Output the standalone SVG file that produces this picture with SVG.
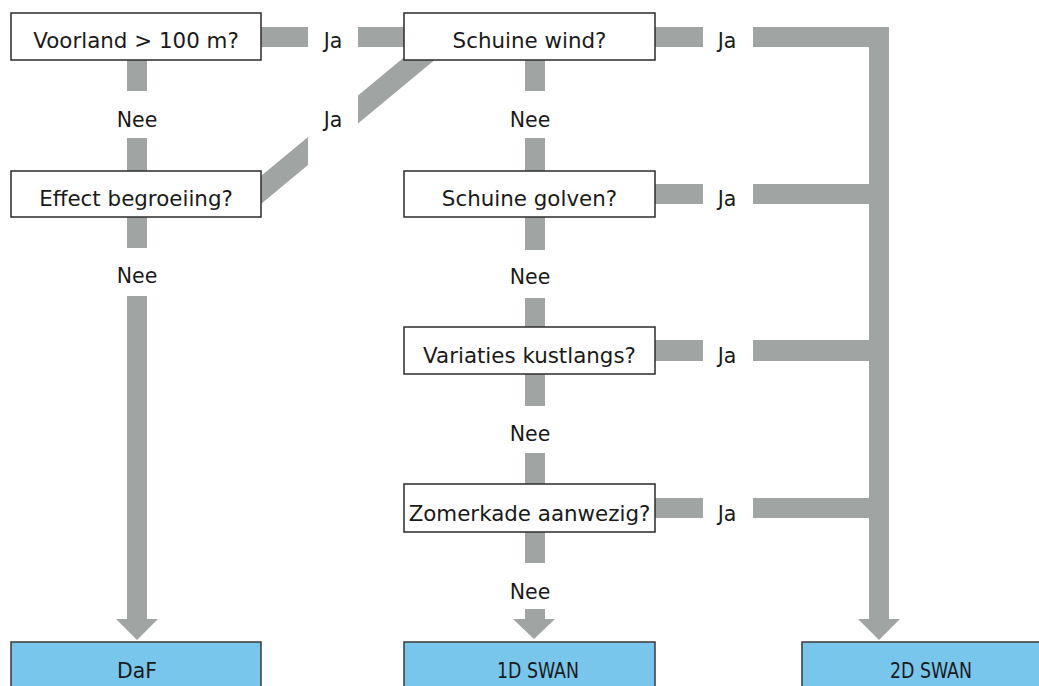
<svg xmlns="http://www.w3.org/2000/svg" width="1039" height="686" viewBox="0 0 1039 686">
<style>
.bar{fill:#a0a4a3}
.q rect{fill:#ffffff;stroke:#2b2b2b;stroke-width:1.5}
.r rect{fill:#78c6ec;stroke:#3a3a3a;stroke-width:1.5}
.t{font-family:"DejaVu Sans",Verdana,sans-serif;font-size:21.4px;fill:#1a1a1a;text-anchor:middle}
.lb{font-family:"DejaVu Sans",Verdana,sans-serif;font-size:20.5px;fill:#1a1a1a;text-anchor:middle}
.rt{font-family:"DejaVu Sans Condensed","DejaVu Sans",sans-serif;font-size:21px;fill:#1a1a1a;text-anchor:middle}
</style>
<rect width="1039" height="686" fill="#ffffff"/>
<g id="connectors">
  <rect class="bar" x="261" y="27" width="47" height="20"/>
  <rect class="bar" x="358" y="27" width="46" height="20"/>
  <polygon class="bar" points="308,137 308,165 245,217.3 245,189.3"/>
  <polygon class="bar" points="358,95.5 358,123.5 440,55.4 440,27.4"/>
  <rect class="bar" x="127" y="60" width="20" height="31"/>
  <rect class="bar" x="127" y="138" width="20" height="33"/>
  <rect class="bar" x="127" y="217" width="20" height="31"/>
  <rect class="bar" x="127" y="296" width="20" height="324"/>
  <polygon class="bar" points="116,619 158,619 137,640"/>
  <rect class="bar" x="525" y="60" width="20" height="31"/>
  <rect class="bar" x="525" y="138" width="20" height="33"/>
  <rect class="bar" x="525" y="217" width="20" height="33"/>
  <rect class="bar" x="525" y="298" width="20" height="29"/>
  <rect class="bar" x="525" y="374" width="20" height="32"/>
  <rect class="bar" x="525" y="453" width="20" height="31"/>
  <rect class="bar" x="525" y="532" width="20" height="31"/>
  <rect class="bar" x="525" y="609" width="20" height="11"/>
  <polygon class="bar" points="513,619 555,619 534,639"/>
  <rect class="bar" x="655" y="27" width="48" height="20"/>
  <rect class="bar" x="753" y="27" width="136" height="20"/>
  <rect class="bar" x="655" y="184" width="48" height="20"/>
  <rect class="bar" x="753" y="184" width="116" height="20"/>
  <rect class="bar" x="655" y="340" width="48" height="21"/>
  <rect class="bar" x="753" y="340" width="116" height="21"/>
  <rect class="bar" x="655" y="498" width="48" height="20"/>
  <rect class="bar" x="753" y="498" width="116" height="20"/>
  <rect class="bar" x="869" y="27" width="20" height="593"/>
  <polygon class="bar" points="858,619 900,619 879,640"/>
  <text class="lb" x="333" y="48">Ja</text>
  <text class="lb" x="333" y="127">Ja</text>
  <text class="lb" x="137" y="127">Nee</text>
  <text class="lb" x="137" y="283">Nee</text>
  <text class="lb" x="530" y="127">Nee</text>
  <text class="lb" x="530" y="284">Nee</text>
  <text class="lb" x="530" y="441">Nee</text>
  <text class="lb" x="530" y="599">Nee</text>
  <text class="lb" x="727" y="48">Ja</text>
  <text class="lb" x="727" y="206">Ja</text>
  <text class="lb" x="727" y="363">Ja</text>
  <text class="lb" x="727" y="521">Ja</text>
</g>
<g id="voorland" class="q"><rect x="11" y="13" width="250" height="47"/><text class="t" x="136" y="48">Voorland &gt; 100 m?</text></g>
<g id="effect" class="q"><rect x="11" y="171" width="250" height="46"/><text class="t" x="136" y="206">Effect begroeiing?</text></g>
<g id="schuine-wind" class="q"><rect x="404" y="13" width="251" height="47"/><text class="t" x="529.5" y="48">Schuine wind?</text></g>
<g id="schuine-golven" class="q"><rect x="404" y="171" width="251" height="46"/><text class="t" x="529.5" y="206">Schuine golven?</text></g>
<g id="variaties" class="q"><rect x="404" y="327" width="251" height="47"/><text class="t" x="529.5" y="363">Variaties kustlangs?</text></g>
<g id="zomerkade" class="q"><rect x="404" y="484" width="251" height="48"/><text class="t" x="529.5" y="521">Zomerkade aanwezig?</text></g>
<g id="daf" class="r"><rect x="11" y="642" width="250" height="60"/><text class="rt" x="137" y="678" textLength="40" lengthAdjust="spacingAndGlyphs">DaF</text></g>
<g id="swan1d" class="r"><rect x="404" y="642" width="251" height="60"/><text class="rt" x="538" y="678" textLength="82" lengthAdjust="spacingAndGlyphs">1D SWAN</text></g>
<g id="swan2d" class="r"><rect x="802" y="642" width="250" height="60"/><text class="rt" x="931" y="678" textLength="82" lengthAdjust="spacingAndGlyphs">2D SWAN</text></g>
</svg>
